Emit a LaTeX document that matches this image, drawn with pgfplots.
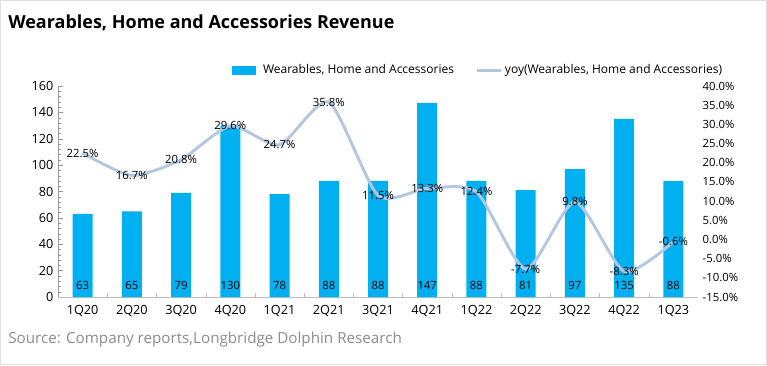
\documentclass[border=0pt]{standalone}
\usepackage{pgfplots}
\pgfplotsset{compat=1.18}
\usepackage{fontspec}
\setmainfont{Open Sans}
\definecolor{barc}{HTML}{00B0F0}
\definecolor{linec}{HTML}{B4C7E2}
\definecolor{srcc}{HTML}{8C8C8C}
\begin{document}
\begin{tikzpicture}
\path[use as bounding box] (0,0) rectangle (575.25pt,273.75pt);
\draw[color=black!12] (0.4pt,0.4pt) rectangle (574.85pt,273.35pt);
\node[anchor=base west,font=\bfseries\fontsize{13.5}{16}\selectfont,inner sep=0pt] at (6pt,252pt) {Wearables, Home and Accessories Revenue};
\node[anchor=base west,font=\fontsize{11.4}{13}\selectfont,text=srcc,inner sep=0pt] at (6pt,16.5pt) {Source: Company reports,Longbridge Dolphin Research};
\begin{axis}[
  at={(43.5pt,51pt)}, anchor=south west,
  scale only axis, width=480pt, height=158.25pt,
  xmin=-0.5, xmax=12.5, ymin=0, ymax=160,
  ytick={0,20,...,160}, minor y tick num=4,
  xtick={0,...,12},
  xticklabels={1Q20,2Q20,3Q20,4Q20,1Q21,2Q21,3Q21,4Q21,1Q22,2Q22,3Q22,4Q22,1Q23},
  axis x line*=bottom, axis y line*=left,
  x axis line style={draw=black!25}, y axis line style={draw=black!40},
  major tick length=4pt, minor tick length=2.5pt,
  tick style={draw=black!40},
  xtick style={draw=none},
  extra x ticks={0.5,1.5,...,11.5}, extra x tick labels={},
  extra x tick style={xtick style={draw=black!25}, major tick length=3pt},
  x tick label style={yshift=-3pt},
  tick label style={font=\fontsize{9.5}{11}\selectfont},
  /pgf/number format/assume math mode=true,
  clip=false,
]
\addplot[ybar, bar width=15pt, fill=barc, draw=none] coordinates {
(0,63) (1,65) (2,79) (3,130) (4,78) (5,88) (6,88) (7,147) (8,88) (9,81) (10,97) (11,135) (12,88)};
\foreach \i/\v in {0/63,1/65,2/79,3/130,4/78,5/88,6/88,7/147,8/88,9/81,10/97,11/135,12/88}{
  \edef\tmp{\noexpand\node[font=\noexpand\fontsize{8.5}{10}\noexpand\selectfont] at (axis cs:\i,9) {\v};}
  \tmp
}
\end{axis}
\begin{axis}[
  at={(43.5pt,51pt)}, anchor=south west,
  scale only axis, width=480pt, height=158.25pt,
  xmin=-0.5, xmax=12.5, ymin=-15, ymax=40,
  ytick={-15,-10,...,40},
  axis x line=none, axis y line*=right,
  y axis line style={draw=none}, ytick style={draw=none},
  yticklabel={\pgfmathprintnumber[fixed,fixed zerofill,precision=1]{\tick}\%},
  tick label style={font=\fontsize{8.5}{10}\selectfont},
  /pgf/number format/assume math mode=true,
  clip=false,
  legend style={at={(0.653,1.075)}, anchor=center, draw=none, fill=none,
    font=\fontsize{9}{11}\selectfont, legend columns=2,
    /tikz/every even column/.append style={column sep=14pt}},
  legend image code/.code={\draw[#1] (0pt,0pt) -- (18pt,0pt);},
]
\addlegendimage{line width=7pt, barc}
\addlegendentry{Wearables, Home and Accessories}
\addplot[smooth, tension=0.4, linec, line width=2.2pt] coordinates {
(0,22.5) (1,16.7) (2,20.8) (3,29.6) (4,24.7) (5,35.8) (6,11.5) (7,13.3) (8,12.4) (9,-7.7) (10,9.8) (11,-8.3) (12,-0.6)};
\addlegendentry{yoy(Wearables, Home and Accessories)}
\foreach \i/\v in {0/22.5,1/16.7,2/20.8,3/29.6,4/24.7,5/35.8,6/11.5,7/13.3,8/12.4,9/-7.7,10/9.8,11/-8.3,12/-0.6}{
  \edef\tmp{\noexpand\node[font=\noexpand\fontsize{8.5}{10}\noexpand\selectfont] at (axis cs:\i,\v) {\v\noexpand\%};}
  \tmp
}
\end{axis}
\end{tikzpicture}
\end{document}
